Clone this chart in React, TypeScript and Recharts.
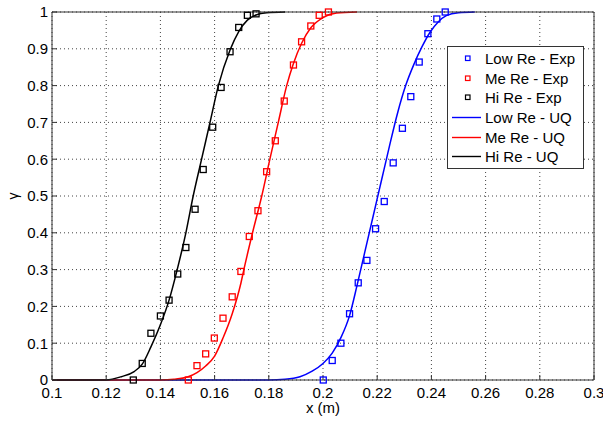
import React from 'react';
import {
  ComposedChart, Line, Scatter, XAxis, YAxis, CartesianGrid, Legend, Label,
} from 'recharts';

const xTicks = [0.1, 0.12, 0.14, 0.16, 0.18, 0.2, 0.22, 0.24, 0.26, 0.28, 0.3];
const yTicks = [0, 0.1, 0.2, 0.3, 0.4, 0.5, 0.6, 0.7, 0.8, 0.9, 1];

// Experimental points
const lowExp = [
  { x: 0.2001, y: 0 }, { x: 0.2034, y: 0.053 }, { x: 0.2066, y: 0.1 }, { x: 0.2098, y: 0.18 },
  { x: 0.213, y: 0.264 }, { x: 0.2162, y: 0.325 }, { x: 0.2194, y: 0.411 }, { x: 0.2226, y: 0.485 },
  { x: 0.2259, y: 0.59 }, { x: 0.2293, y: 0.684 }, { x: 0.2324, y: 0.77 }, { x: 0.2355, y: 0.864 },
  { x: 0.2387, y: 0.941 }, { x: 0.242, y: 0.981 }, { x: 0.2451, y: 1.0 },
];
const meExp = [
  { x: 0.1503, y: 0 }, { x: 0.1535, y: 0.039 }, { x: 0.1567, y: 0.071 }, { x: 0.1599, y: 0.114 },
  { x: 0.1631, y: 0.168 }, { x: 0.1665, y: 0.226 }, { x: 0.1697, y: 0.295 }, { x: 0.1728, y: 0.39 },
  { x: 0.176, y: 0.46 }, { x: 0.1792, y: 0.566 }, { x: 0.1824, y: 0.65 }, { x: 0.1857, y: 0.758 },
  { x: 0.1891, y: 0.856 }, { x: 0.1921, y: 0.919 }, { x: 0.1955, y: 0.962 }, { x: 0.1986, y: 0.991 },
  { x: 0.202, y: 1.0 },
];
const hiExp = [
  { x: 0.13, y: 0 }, { x: 0.1333, y: 0.045 }, { x: 0.1365, y: 0.127 }, { x: 0.14, y: 0.174 },
  { x: 0.1432, y: 0.217 }, { x: 0.1464, y: 0.288 }, { x: 0.1494, y: 0.36 }, { x: 0.1528, y: 0.464 },
  { x: 0.1558, y: 0.572 }, { x: 0.1593, y: 0.687 }, { x: 0.1624, y: 0.795 }, { x: 0.1657, y: 0.892 },
  { x: 0.1689, y: 0.958 }, { x: 0.1721, y: 0.991 }, { x: 0.1753, y: 0.995 },
];

// UQ curves
const lowUQ = [
  { x: 0.1, y: 0 }, { x: 0.18, y: 0 }, { x: 0.186, y: 0.002 }, { x: 0.1915, y: 0.009 },
  { x: 0.196, y: 0.024 }, { x: 0.2, y: 0.045 }, { x: 0.2034, y: 0.073 }, { x: 0.2066, y: 0.115 },
  { x: 0.2098, y: 0.175 }, { x: 0.2125, y: 0.255 }, { x: 0.2155, y: 0.35 }, { x: 0.2185, y: 0.445 },
  { x: 0.2215, y: 0.54 }, { x: 0.2245, y: 0.635 }, { x: 0.2275, y: 0.725 }, { x: 0.2305, y: 0.8 },
  { x: 0.2335, y: 0.857 }, { x: 0.2365, y: 0.905 }, { x: 0.2395, y: 0.945 }, { x: 0.2425, y: 0.973 },
  { x: 0.2455, y: 0.99 }, { x: 0.25, y: 0.998 }, { x: 0.256, y: 1.0 },
];
const meUQ = [
  { x: 0.1, y: 0 }, { x: 0.14, y: 0 }, { x: 0.145, y: 0.002 }, { x: 0.15, y: 0.008 },
  { x: 0.1535, y: 0.02 }, { x: 0.1567, y: 0.038 }, { x: 0.16, y: 0.065 }, { x: 0.1631, y: 0.114 },
  { x: 0.1665, y: 0.18 }, { x: 0.1697, y: 0.263 }, { x: 0.1708, y: 0.3 }, { x: 0.174, y: 0.4 },
  { x: 0.1774, y: 0.5 }, { x: 0.1804, y: 0.6 }, { x: 0.1835, y: 0.7 }, { x: 0.1866, y: 0.8 },
  { x: 0.189, y: 0.858 }, { x: 0.1921, y: 0.915 }, { x: 0.1955, y: 0.957 }, { x: 0.2, y: 0.985 },
  { x: 0.205, y: 0.997 }, { x: 0.2125, y: 1.0 },
];
const hiUQ = [
  { x: 0.1, y: 0 }, { x: 0.12, y: 0 }, { x: 0.1256, y: 0.009 }, { x: 0.1303, y: 0.023 },
  { x: 0.1333, y: 0.043 }, { x: 0.1365, y: 0.09 }, { x: 0.14, y: 0.15 }, { x: 0.1432, y: 0.217 },
  { x: 0.1462, y: 0.3 }, { x: 0.1494, y: 0.4 }, { x: 0.1521, y: 0.5 }, { x: 0.1552, y: 0.6 },
  { x: 0.1583, y: 0.7 }, { x: 0.1614, y: 0.8 }, { x: 0.1657, y: 0.897 }, { x: 0.1689, y: 0.947 },
  { x: 0.1721, y: 0.978 }, { x: 0.1753, y: 0.992 }, { x: 0.1792, y: 0.998 }, { x: 0.186, y: 1.0 },
];

const legendItems = [
  { name: 'Low Re - Exp', color: '#0000ff', kind: 'square' },
  { name: 'Me Re - Exp', color: '#ff0000', kind: 'square' },
  { name: 'Hi Re - Exp', color: '#000000', kind: 'square' },
  { name: 'Low Re - UQ', color: '#0000ff', kind: 'line' },
  { name: 'Me Re - UQ', color: '#ff0000', kind: 'line' },
  { name: 'Hi Re - UQ', color: '#000000', kind: 'line' },
];

const FONT = '"Liberation Sans", Arial, Helvetica, sans-serif';

const makeSquare = (color: string) => (props: any) => {
  const { cx, cy } = props;
  if (cx == null || cy == null) return <g />;
  return (
    <rect x={cx - 3} y={cy - 3} width={6} height={6} fill="none" stroke={color} strokeWidth={1.3} />
  );
};

const renderLegend = () => (
  <div
    style={{
      width: 137, height: 123, boxSizing: 'border-box', border: '1px solid #333',
      background: '#fff', paddingTop: 2, fontFamily: FONT, fontSize: 15, color: '#000',
    }}
  >
    {legendItems.map((it) => (
      <div key={it.name} style={{ height: 19.6, display: 'flex', alignItems: 'center' }}>
        <svg width={37} height={19} style={{ flex: 'none' }}>
          {it.kind === 'square' ? (
            <rect x={17.5} y={7} width={4.5} height={4.5} fill="none" stroke={it.color} strokeWidth={1.2} />
          ) : (
            <line x1={4} y1={9.5} x2={33} y2={9.5} stroke={it.color} strokeWidth={1.4} />
          )}
        </svg>
        <span style={{ whiteSpace: 'nowrap', lineHeight: '19px' }}>{it.name}</span>
      </div>
    ))}
  </div>
);

const tickStyle = { fontFamily: FONT, fontSize: 15, fill: '#000' };

export default function App() {
  return (
    <div style={{ position: 'absolute', left: 0, top: 0, width: 603, height: 422, background: '#fff' }}>
      <ComposedChart width={603} height={422} margin={{ top: 0, right: 0, bottom: 0, left: 0 }}>
        <CartesianGrid stroke="#444" strokeDasharray="1 3" strokeWidth={1} />
        <XAxis
          dataKey="x" type="number" domain={[0.1, 0.3]} ticks={xTicks} height={42}
          tick={tickStyle} tickSize={-5} tickMargin={12} stroke="#333" tickFormatter={(v: number) => String(v)}
          interval={0}
        >
          <Label
            content={(p: any) => {
              const vb = p.viewBox || {};
              return (
                <text x={vb.x + vb.width / 2} y={vb.y + 33} textAnchor="middle"
                  style={{ fontFamily: FONT, fontSize: 15 }} fill="#000">x (m)</text>
              );
            }}
          />
        </XAxis>
        <XAxis
          xAxisId="top" orientation="top" type="number" domain={[0.1, 0.3]} ticks={xTicks} height={12}
          tick={() => <g />} tickSize={-5} stroke="#333" interval={0}
        />
        <YAxis
          dataKey="y" type="number" domain={[0, 1]} ticks={yTicks} width={52}
          tick={tickStyle} tickSize={-5} tickMargin={9} stroke="#333" interval={0}
        >
          <Label
            content={(p: any) => {
              const vb = p.viewBox || {};
              const cx = 13;
              const cy = vb.y + vb.height / 2;
              return (
                <text x={cx} y={cy} textAnchor="middle" dominantBaseline="central"
                  transform={`rotate(-90 ${cx} ${cy})`} style={{ fontFamily: FONT, fontSize: 14 }} fill="#000">γ</text>
              );
            }}
          />
        </YAxis>
        <YAxis
          yAxisId="right" orientation="right" type="number" domain={[0, 1]} ticks={yTicks} width={9}
          tick={() => <g />} tickSize={-5} stroke="#333" interval={0}
        />
        <Scatter name="Low Re - Exp" data={lowExp} dataKey="y" shape={makeSquare('#0000ff')} isAnimationActive={false} />
        <Scatter name="Me Re - Exp" data={meExp} dataKey="y" shape={makeSquare('#ff0000')} isAnimationActive={false} />
        <Scatter name="Hi Re - Exp" data={hiExp} dataKey="y" shape={makeSquare('#000000')} isAnimationActive={false} />
        <Line name="Low Re - UQ" data={lowUQ} dataKey="y" type="monotone" stroke="#0000ff" strokeWidth={1.5} dot={false} activeDot={false} isAnimationActive={false} />
        <Line name="Me Re - UQ" data={meUQ} dataKey="y" type="monotone" stroke="#ff0000" strokeWidth={1.5} dot={false} activeDot={false} isAnimationActive={false} />
        <Line name="Hi Re - UQ" data={hiUQ} dataKey="y" type="monotone" stroke="#000000" strokeWidth={1.5} dot={false} activeDot={false} isAnimationActive={false} />
        <Legend
          layout="vertical" align="center" verticalAlign="middle" content={renderLegend}
          wrapperStyle={{ position: 'absolute', left: 447, top: 46, width: 137, height: 123 }}
        />
      </ComposedChart>
    </div>
  );
}
